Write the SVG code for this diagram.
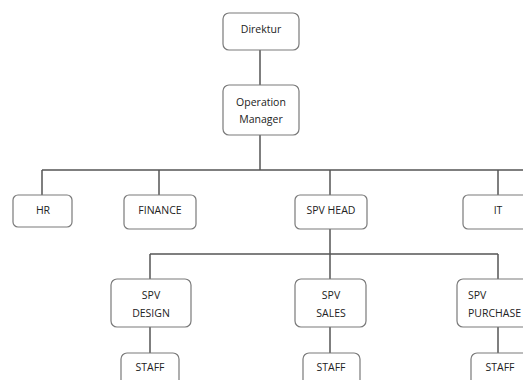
<svg xmlns="http://www.w3.org/2000/svg" width="523" height="380" viewBox="0 0 523 380">
<style>
.box{fill:#fff;stroke:#7a7a7a;stroke-width:1.2}
.ln{fill:none;stroke:#555;stroke-width:1.5}
text{font-family:"Open Sans","Liberation Sans",sans-serif;font-size:10.5px;fill:#222;text-anchor:middle}
</style>
<rect width="523" height="380" fill="#fff"/>
<g id="connectors">
<path class="ln" d="M260 50V85M260 135V170M42 170H523M42 170V195M159 170V195M330 170V195M498 170V195"/>
<path class="ln" d="M330 229V254M150 254H498M150 254V279M330 254V279M498 254V279"/>
<path class="ln" d="M150 327V353M330 327V353M498 327V353"/>
</g>
<g id="direktur"><rect class="box" x="223" y="13" width="76" height="37" rx="6"/><text x="261" y="33">Direktur</text></g>
<g id="operation-manager"><rect class="box" x="223" y="85" width="76" height="50" rx="6"/><text x="261" y="106">Operation</text><text x="261" y="123">Manager</text></g>
<g id="hr"><rect class="box" x="13" y="195" width="59" height="32" rx="5"/><text x="43" y="214">HR</text></g>
<g id="finance"><rect class="box" x="124" y="195" width="72" height="34" rx="5"/><text x="160" y="214">FINANCE</text></g>
<g id="spv-head"><rect class="box" x="295" y="195" width="72" height="34" rx="5"/><text x="331" y="214">SPV HEAD</text></g>
<g id="it"><rect class="box" x="463" y="195" width="72" height="34" rx="5"/><text x="498" y="214">IT</text></g>
<g id="spv-design"><rect class="box" x="111" y="279" width="80" height="48" rx="6"/><text x="151" y="299">SPV</text><text x="151" y="317">DESIGN</text></g>
<g id="spv-sales"><rect class="box" x="295" y="279" width="71" height="48" rx="6"/><text x="331" y="299">SPV</text><text x="331" y="317">SALES</text></g>
<g id="spv-purchase"><rect class="box" x="457" y="279" width="80" height="48" rx="6"/><text x="468" y="299" style="text-anchor:start">SPV</text><text x="468" y="317" style="text-anchor:start">PURCHASE</text></g>
<g id="staff-design"><rect class="box" x="121" y="353" width="58" height="40" rx="6"/><text x="150" y="371">STAFF</text></g>
<g id="staff-sales"><rect class="box" x="303" y="353" width="57" height="40" rx="6"/><text x="331" y="371">STAFF</text></g>
<g id="staff-purchase"><rect class="box" x="471" y="353" width="58" height="40" rx="6"/><text x="500" y="371">STAFF</text></g>
</svg>
